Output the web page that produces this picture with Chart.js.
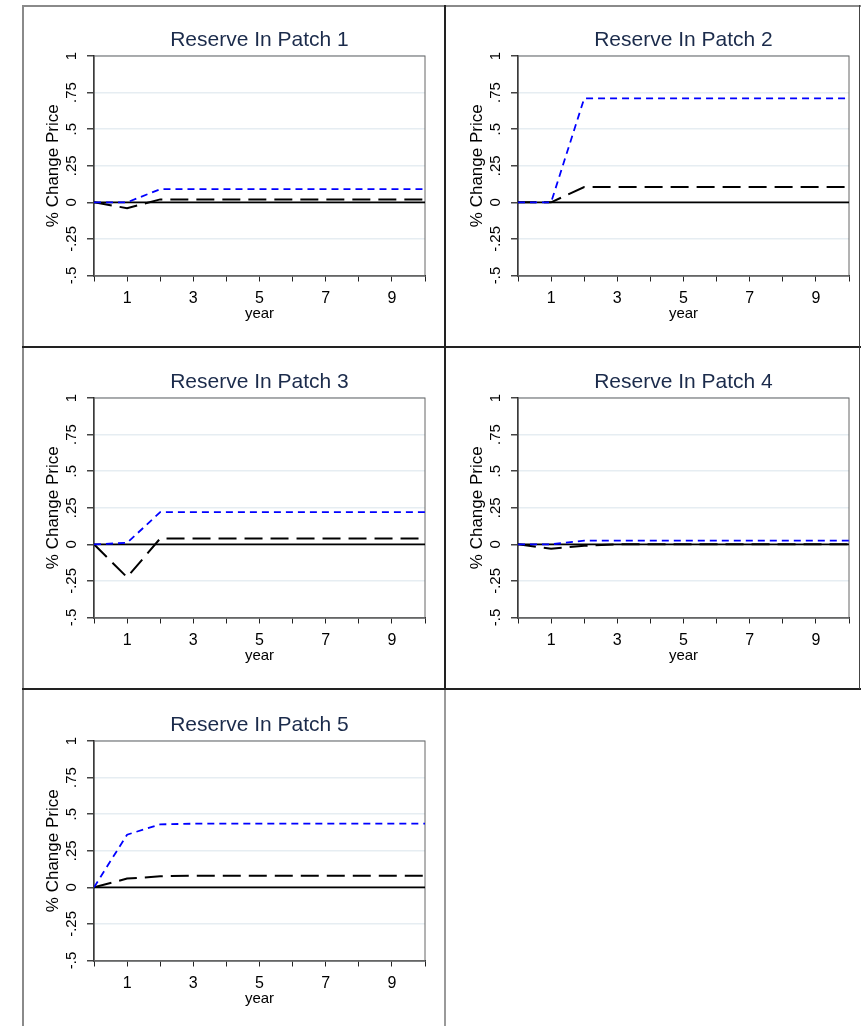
<!DOCTYPE html>
<html>
<head>
<meta charset="utf-8">
<script src="https://cdn.jsdelivr.net/npm/chart.js@4.4.0/dist/chart.umd.min.js"></script>
<style>
  body { margin: 0; background: #fff; width: 861px; height: 1026px; position: relative; overflow: hidden; }
  .rule { position: absolute; }
  .panel { position: absolute; width: 416px; height: 340px; }
</style>
</head>
<body>
<!-- panel frames -->
<div class="rule" style="left:22px;top:5px;width:839px;height:2px;background:#8a8a8a"></div>
<div class="rule" style="left:22px;top:5px;width:2px;height:1021px;background:#8a8a8a"></div>
<div class="rule" style="left:444px;top:5px;width:2px;height:684px;background:#222"></div>
<div class="rule" style="left:444px;top:689px;width:2px;height:337px;background:#9a9a9a"></div>
<div class="rule" style="left:22px;top:346px;width:839px;height:2px;background:#222"></div>
<div class="rule" style="left:22px;top:688px;width:839px;height:2px;background:#222"></div>
<div class="rule" style="left:859px;top:5px;width:1px;height:684px;background:#444"></div>

<div class="panel" style="left:24px;top:6px"><canvas id="p1"></canvas></div>
<div class="panel" style="left:448px;top:6px"><canvas id="p2"></canvas></div>
<div class="panel" style="left:24px;top:348px"><canvas id="p3"></canvas></div>
<div class="panel" style="left:448px;top:348px"><canvas id="p4"></canvas></div>
<div class="panel" style="left:24px;top:691px"><canvas id="p5"></canvas></div>

<script>
const years = [0, 1, 2, 3, 4, 5, 6, 7, 8, 9, 10];

const patch1Blue  = [0, 0, 0.09, 0.09, 0.09, 0.09, 0.09, 0.09, 0.09, 0.09, 0.09];
const patch1Black = [0, -0.04, 0.02, 0.02, 0.02, 0.02, 0.02, 0.02, 0.02, 0.02, 0.02];
const patch2Blue  = [0, 0, 0.71, 0.71, 0.71, 0.71, 0.71, 0.71, 0.71, 0.71, 0.71];
const patch2Black = [0, 0, 0.105, 0.105, 0.105, 0.105, 0.105, 0.105, 0.105, 0.105, 0.105];
const patch3Blue  = [0, 0.01, 0.22, 0.22, 0.22, 0.22, 0.22, 0.22, 0.22, 0.22, 0.22];
const patch3Black = [0, -0.225, 0.04, 0.04, 0.04, 0.04, 0.04, 0.04, 0.04, 0.04, 0.04];
const patch4Blue  = [0, 0, 0.025, 0.025, 0.025, 0.025, 0.025, 0.025, 0.025, 0.025, 0.025];
const patch4Black = [0, -0.03, -0.01, 0, 0, 0, 0, 0, 0, 0, 0];
const patch5Blue  = [0, 0.36, 0.43, 0.435, 0.435, 0.435, 0.435, 0.435, 0.435, 0.435, 0.435];
const patch5Black = [0, 0.06, 0.075, 0.08, 0.08, 0.08, 0.08, 0.08, 0.08, 0.08, 0.08];
const zeroLine    = [0, 0, 0, 0, 0, 0, 0, 0, 0, 0, 0];

const yTicks = [-0.5, -0.25, 0, 0.25, 0.5, 0.75, 1];
const yTickLabels = ['-.5', '-.25', '0', '.25', '.5', '.75', '1'];
const xTicks = [1, 3, 5, 7, 9];
const xTickLabels = ['1', '3', '5', '7', '9'];

const FONT = "'Liberation Sans', Arial, sans-serif";

// thin grey box around the plot area (top/right sides)
const frame = {
    id: 'frame',
    beforeDatasetsDraw(chart) {
        const a = chart.chartArea;
        const c = chart.ctx;
        c.save();
        c.strokeStyle = '#666';
        c.lineWidth = 1;
        c.strokeRect(a.left, a.top, a.right - a.left, a.bottom - a.top);
        c.restore();
    }
};

function pts(ys) {
    return years.map((x, i) => ({x: x, y: ys[i]}));
}

function makePanel(id, title, blue, black) {
    const ctx = document.getElementById(id).getContext('2d');
    return new Chart(ctx, {
        type: 'line',
        data: {
            datasets: [{
                data: pts(blue),
                borderColor: '#0000ff',
                borderWidth: 1.8,
                borderDash: [7, 5],
                pointRadius: 0,
                tension: 0
            }, {
                data: pts(black),
                borderColor: '#000',
                borderWidth: 2,
                borderDash: [18, 8],
                pointRadius: 0,
                tension: 0
            }, {
                data: pts(zeroLine),
                borderColor: '#000',
                borderWidth: 1.6,
                pointRadius: 0,
                tension: 0
            }]
        },
        options: {
            responsive: false,
            animation: false,
            layout: { padding: { left: 0, right: 15, top: 0, bottom: 0 } },
            plugins: {
                legend: { display: false },
                tooltip: { enabled: false },
                title: {
                    display: true,
                    text: title,
                    fullSize: false,
                    color: '#1b2b4b',
                    font: { family: FONT, size: 21, weight: 'normal', lineHeight: 1.2 },
                    padding: { top: 22, bottom: 2.8 }
                }
            },
            scales: {
                x: {
                    type: 'linear',
                    min: 0,
                    max: 10,
                    afterBuildTicks: (s) => { s.ticks = years.map(v => ({value: v})); },
                    afterFit: (s) => { s.height = 70.5; s.paddingLeft = 0; s.paddingRight = 0; },
                    ticks: {
                        autoSkip: false,
                        maxRotation: 0,
                        padding: 7,
                        color: '#000',
                        font: { family: FONT, size: 16 },
                        callback: (v) => {
                            const i = xTicks.indexOf(v);
                            return i < 0 ? '' : xTickLabels[i];
                        }
                    },
                    grid: { drawOnChartArea: false, drawTicks: true, tickLength: 6, tickColor: '#222' },
                    border: { color: '#111', width: 1.5 },
                    title: {
                        display: true,
                        text: 'year',
                        color: '#000',
                        font: { family: FONT, size: 15, lineHeight: 1.2 },
                        padding: { top: 0, bottom: 23.5 }
                    }
                },
                y: {
                    min: -0.5,
                    max: 1,
                    afterBuildTicks: (s) => { s.ticks = yTicks.map(v => ({value: v})); },
                    afterFit: (s) => { s.width = 70; s.paddingTop = 0; s.paddingBottom = 0; },
                    ticks: {
                        autoSkip: false,
                        minRotation: 90,
                        maxRotation: 90,
                        crossAlign: 'center',
                        padding: 2,
                        color: '#000',
                        font: { family: FONT, size: 15 },
                        callback: (v) => {
                            const i = yTicks.indexOf(v);
                            return i < 0 ? '' : yTickLabels[i];
                        }
                    },
                    grid: { color: '#e6edf2', lineWidth: 1.5, drawTicks: true, tickLength: 7, tickColor: '#444' },
                    border: { color: '#111', width: 1.5 },
                    title: {
                        display: true,
                        text: '% Change Price',
                        color: '#000',
                        font: { family: FONT, size: 17, lineHeight: 1.2 },
                        padding: { top: 19.4, bottom: 0 }
                    }
                }
            }
        },
        plugins: [frame]
    });
}

for (const id of ['p1', 'p2', 'p3', 'p4', 'p5']) {
    const cv = document.getElementById(id);
    cv.width = 416;
    cv.height = 340;
}

makePanel('p1', 'Reserve In Patch 1', patch1Blue, patch1Black);
makePanel('p2', 'Reserve In Patch 2', patch2Blue, patch2Black);
makePanel('p3', 'Reserve In Patch 3', patch3Blue, patch3Black);
makePanel('p4', 'Reserve In Patch 4', patch4Blue, patch4Black);
makePanel('p5', 'Reserve In Patch 5', patch5Blue, patch5Black);
</script>
</body>
</html>
